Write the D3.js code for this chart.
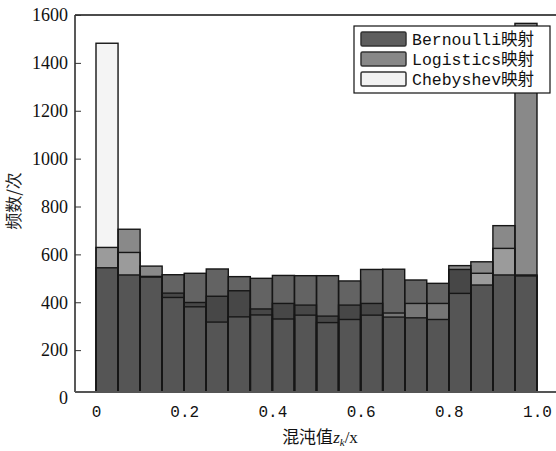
<!DOCTYPE html>
<html>
<head>
<meta charset="utf-8">
<script src="https://cdn.jsdelivr.net/npm/d3@7"></script>
<style>
  body { margin: 0; background: #fff; }
  svg { display: block; }
  .ylab { font-family: "Liberation Serif", "DejaVu Serif", serif; font-size: 18px; fill: #111; }
  .xlab { font-family: "Liberation Mono", "DejaVu Sans Mono", monospace; font-size: 16px; fill: #111; }
</style>
</head>
<body>
<div id="chart"></div>
<script>
var WIDTH = 556;
var HEIGHT = 451;

// histogram counts, 20 bins over [0, 1]
var bernoulli = [544, 514, 508, 515, 521, 539, 507, 500, 512, 511, 511, 489, 537, 538, 493, 479, 537, 472, 514, 514];
var logistics = [629, 705, 551, 438, 399, 425, 448, 372, 395, 388, 342, 388, 395, 338, 335, 328, 553, 569, 720, 1565];
var chebyshev = [1482, 608, 505, 420, 381, 317, 339, 347, 330, 346, 315, 328, 346, 355, 395, 395, 437, 521, 625, 510];
var binWidth = 0.05;

var seriesNames = ["Bernoulli映射", "Logistics映射", "Chebyshev映射"];
var xTicks = [0, 0.2, 0.4, 0.6, 0.8, 1.0];
var xTickLabels = ["0", "0.2", "0.4", "0.6", "0.8", "1.0"];
var yTicks = [0, 200, 400, 600, 800, 1000, 1200, 1400, 1600];

// fill for a piece of bar, keyed by which series overlap there
var fillBy = {
  "B": "#636363",
  "L": "#898989",
  "C": "#f4f4f4",
  "BL": "#474747",
  "BC": "#767676",
  "LC": "#9b9b9b",
  "BLC": "#555555"
};
var keys = ["B", "L", "C"];
var legendFill = ["#5e5e5e", "#888888", "#f2f2f2"];

var plot = {left: 75, top: 15, right: 556, bottom: 392};

var svg = d3.select("#chart").append("svg")
  .attr("width", WIDTH)
  .attr("height", HEIGHT);

var x = d3.scaleLinear().domain([0, 1]).range([96, 537]);
var y = d3.scaleLinear().domain([0, 1600]).range([398, 15]);

svg.append("clipPath").attr("id", "plotclip")
  .append("rect")
  .attr("x", plot.left).attr("y", 0)
  .attr("width", plot.right - plot.left)
  .attr("height", plot.bottom);

var bars = svg.append("g").attr("clip-path", "url(#plotclip)");

var data = bernoulli.map(function(d, i) {
  return {i: i, B: d, L: logistics[i], C: chebyshev[i]};
});

// split each bin into stacked pieces by overlap
var pieces = [];
data.forEach(function(d) {
  var vals = keys.map(function(k) { return {k: k, v: d[k]}; })
    .sort(function(a, b) { return b.v - a.v; });
  vals.forEach(function(s, j) {
    var set = vals.slice(0, j + 1).map(function(t) { return t.k; });
    set.sort(function(a, b) { return keys.indexOf(a) - keys.indexOf(b); });
    pieces.push({
      i: d.i,
      top: s.v,
      low: j < vals.length - 1 ? vals[j + 1].v : 0,
      set: set.join("")
    });
  });
});

bars.selectAll("rect.piece")
  .data(pieces)
  .enter().append("rect")
  .attr("class", "piece")
  .attr("x", function(d) { return x(d.i * binWidth); })
  .attr("width", function(d) { return x((d.i + 1) * binWidth) - x(d.i * binWidth); })
  .attr("y", function(d) { return y(d.top); })
  .attr("height", function(d) { return y(d.low) - y(d.top); })
  .style("fill", function(d) { return fillBy[d.set]; });

keys.forEach(function(k) {
  bars.selectAll("rect.edge-" + k)
    .data(data)
    .enter().append("rect")
    .attr("class", "edge-" + k)
    .attr("x", function(d) { return x(d.i * binWidth); })
    .attr("width", function(d) { return x((d.i + 1) * binWidth) - x(d.i * binWidth); })
    .attr("y", function(d) { return y(d[k]); })
    .attr("height", function(d) { return y(0) - y(d[k]); })
    .style("fill", "none")
    .style("stroke", "#161616")
    .style("stroke-width", 1.4);
});

// frame
svg.append("line")
  .attr("x1", plot.left).attr("x2", plot.right)
  .attr("y1", plot.top).attr("y2", plot.top)
  .style("stroke", "#111").style("stroke-width", 1.5);
svg.append("line")
  .attr("x1", plot.left).attr("x2", plot.left)
  .attr("y1", plot.top).attr("y2", plot.bottom)
  .style("stroke", "#222").style("stroke-width", 1.5);

// y axis
svg.append("g")
  .attr("transform", "translate(" + plot.left + ",0)")
  .attr("font-family", null).attr("font-size", null)
  .call(d3.axisLeft(y).tickValues(yTicks).tickSize(-6).tickPadding(7).tickFormat(d3.format("d")))
  .call(function(g) { g.select(".domain").remove(); })
  .call(function(g) { g.selectAll(".tick line").style("stroke", "#333").style("opacity", function(d) { return d === 0 ? 0 : 1; }); })
  .call(function(g) {
    g.attr("font-family", null).attr("font-size", null);
    g.selectAll(".tick text").attr("class", "ylab").attr("fill", null);
  });

// x axis
svg.append("g")
  .attr("transform", "translate(0," + plot.bottom + ")")
  .call(d3.axisBottom(x).tickValues(xTicks).tickSize(0).tickPadding(14)
    .tickFormat(function(d, i) { return xTickLabels[i]; }))
  .call(function(g) { g.select(".domain").remove(); })
  .call(function(g) {
    g.attr("font-family", null).attr("font-size", null);
    g.selectAll(".tick text").attr("class", "xlab").attr("fill", null);
  });

svg.append("line")
  .attr("x1", plot.left).attr("x2", plot.right)
  .attr("y1", plot.bottom).attr("y2", plot.bottom)
  .style("stroke", "#555").style("stroke-width", 2);

// axis titles
var xTitle = svg.append("text")
  .attr("x", 320).attr("y", 443)
  .attr("text-anchor", "middle")
  .style("font-family", "'Liberation Serif', 'Noto Sans CJK SC', serif")
  .style("font-size", "17px")
  .style("fill", "#111");
xTitle.append("tspan").text("混沌值");
xTitle.append("tspan").style("font-style", "italic").text("z");
xTitle.append("tspan").attr("dy", 3).style("font-size", "11px").style("font-style", "italic").text("k");
xTitle.append("tspan").attr("dy", -3).text("/x");

svg.append("text")
  .attr("transform", "translate(20,201) rotate(-90)")
  .attr("text-anchor", "middle")
  .style("font-family", "'Noto Sans CJK SC', sans-serif")
  .style("font-size", "17px")
  .style("fill", "#222")
  .text("频数/次");

// legend
var legend = svg.append("g").attr("transform", "translate(354,26)");
legend.append("rect")
  .attr("width", 196).attr("height", 67)
  .style("fill", "#fff").style("stroke", "#111").style("stroke-width", 1.2);

var item = legend.selectAll("g.item")
  .data(seriesNames)
  .enter().append("g")
  .attr("class", "item")
  .attr("transform", function(d, i) { return "translate(7," + (6 + i * 20) + ")"; });

item.append("rect")
  .attr("width", 45).attr("height", 14).attr("rx", 1.5)
  .style("fill", function(d, i) { return legendFill[i]; })
  .style("stroke", "#333").style("stroke-width", 1.5);

item.append("text")
  .attr("x", 51).attr("y", 13)
  .style("font-family", "'Liberation Mono', 'Noto Sans CJK SC', monospace")
  .style("font-size", "16.5px")
  .style("fill", "#111")
  .text(function(d) { return d; });
</script>
</body>
</html>
